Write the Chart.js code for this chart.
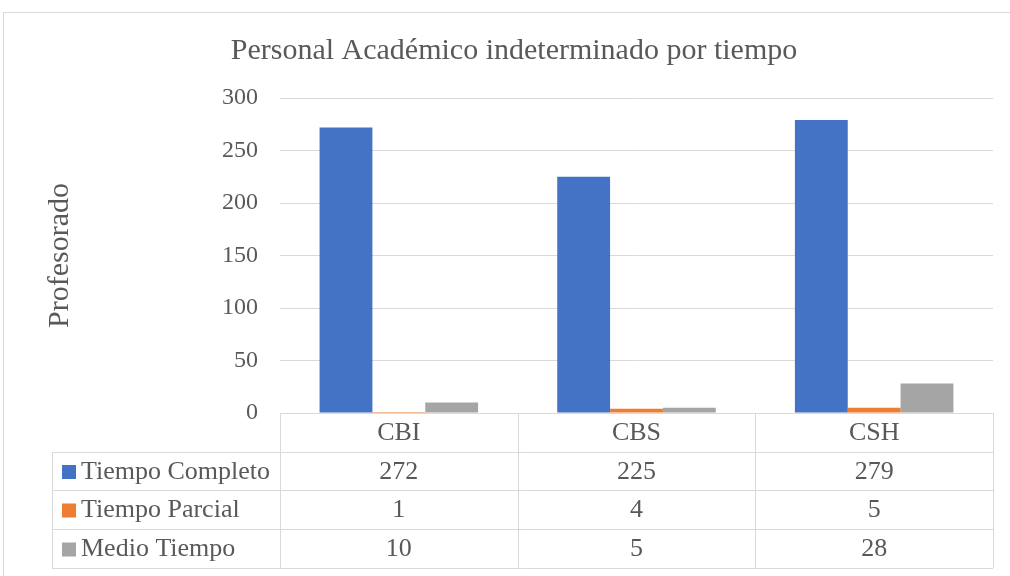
<!DOCTYPE html>
<html>
<head>
<meta charset="utf-8">
<script src="https://cdn.jsdelivr.net/npm/chart.js@4.4.1/dist/chart.umd.min.js"></script>
<style>
  body { margin:0; background:#fff; }
  #wrap { width:1010px; height:576px; }
</style>
</head>
<body>
<div id="wrap"><canvas id="chart" width="1010" height="576"></canvas></div>
<script>
const categories = ['CBI', 'CBS', 'CSH'];
const seriesNames = ['Tiempo Completo', 'Tiempo Parcial', 'Medio Tiempo'];
const tiempoCompleto = [272, 225, 279];
const tiempoParcial = [1, 4, 5];
const medioTiempo = [10, 5, 28];
const seriesColors = ['#4472C4', '#ED7D31', '#A5A5A5'];
const chartTitle = 'Personal Académico indeterminado por tiempo';
const yTitle = 'Profesorado';

const FONT = '"Liberation Serif", "DejaVu Serif", serif';
const TEXT = '#595959';
const GRID = '#D9D9D9';

const seriesValues = [tiempoCompleto, tiempoParcial, medioTiempo];

// frame + title + data table under the plot
const extras = {
  id: 'extras',
  afterDraw(chart) {
    const ctx = chart.ctx;
    const x = chart.scales.x;
    const area = chart.chartArea;
    ctx.save();

    ctx.strokeStyle = GRID;
    ctx.lineWidth = 1;
    ctx.strokeRect(3.5, 12.5, 1100, 700);

    ctx.fillStyle = TEXT;
    ctx.font = '30px ' + FONT;
    ctx.textAlign = 'center';
    ctx.textBaseline = 'alphabetic';
    ctx.fillText(chartTitle, 514, 59);

    const step = (x.right - x.left) / categories.length;
    const rows = [area.bottom, 452, 490, 529, 568];
    const labelLeft = 52;

    ctx.beginPath();
    for (let i = 1; i < rows.length; i++) {
      ctx.moveTo(labelLeft, rows[i] + 0.5);
      ctx.lineTo(x.right, rows[i] + 0.5);
    }
    for (let c = 0; c <= categories.length; c++) {
      const px = Math.round(x.left + c * step) + 0.5;
      ctx.moveTo(px, rows[0]);
      ctx.lineTo(px, rows[rows.length - 1]);
    }
    ctx.moveTo(labelLeft + 0.5, rows[1]);
    ctx.lineTo(labelLeft + 0.5, rows[rows.length - 1]);
    ctx.stroke();

    ctx.font = '26px ' + FONT;
    ctx.textBaseline = 'middle';
    categories.forEach((c, i) => {
      ctx.fillText(c, x.getPixelForValue(i), (rows[0] + rows[1]) / 2 + 1);
    });
    seriesNames.forEach((name, r) => {
      const cy = (rows[r + 1] + rows[r + 2]) / 2 + 1;
      ctx.fillStyle = seriesColors[r];
      ctx.fillRect(62, cy - 7, 14, 14);
      ctx.fillStyle = TEXT;
      ctx.textAlign = 'left';
      ctx.fillText(name, 81, cy);
      ctx.textAlign = 'center';
      seriesValues[r].forEach((v, i) => {
        ctx.fillText(String(v), x.getPixelForValue(i), cy);
      });
    });
    ctx.restore();
  }
};

new Chart(document.getElementById('chart'), {
  type: 'bar',
  data: {
    labels: categories,
    datasets: seriesNames.map((name, i) => ({
      label: name,
      data: seriesValues[i],
      backgroundColor: seriesColors[i],
      categoryPercentage: 0.667,
      barPercentage: 1.0
    }))
  },
  options: {
    responsive: false,
    animation: false,
    layout: { padding: { top: 98, right: 17, bottom: 163, left: 42 } },
    plugins: {
      legend: { display: false },
      title: { display: false },
      tooltip: { enabled: false }
    },
    scales: {
      x: { display: false },
      y: {
        min: 0, max: 300,
        ticks: { stepSize: 50, padding: 22, color: TEXT, font: { family: FONT, size: 24 } },
        grid: { color: GRID, drawTicks: false },
        border: { display: false },
        title: { display: true, text: yTitle, color: TEXT, padding: 0, font: { family: FONT, size: 30 } },
        afterFit(scale) { scale.width = 238; }
      }
    }
  },
  plugins: [extras]
});
</script>
</body>
</html>
